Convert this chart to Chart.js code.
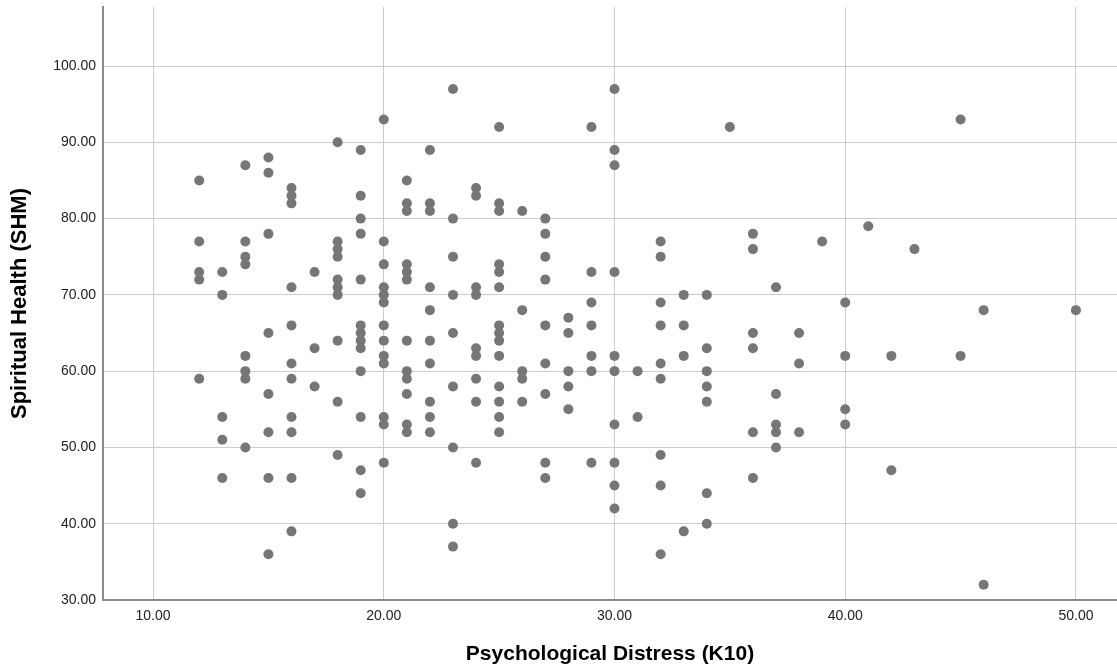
<!DOCTYPE html>
<html>
<head>
<meta charset="utf-8">
<script src="https://cdn.jsdelivr.net/npm/chart.js@4.4.0/dist/chart.umd.min.js"></script>
<style>
  html, body { margin: 0; padding: 0; background: #ffffff; }
  #wrap { width: 1117px; height: 667px; position: relative; }
</style>
</head>
<body>
<div id="wrap"><canvas id="scatter"></canvas></div>
<script>
// Psychological Distress (K10) scores, and the Spiritual Health (SHM) scores seen at each one
var distress = [12, 13, 14, 15, 16, 17, 18, 19, 20, 21, 22, 23, 24, 25, 26, 27, 28, 29, 30,
                31, 32, 33, 34, 35, 36, 37, 38, 39, 40, 41, 42, 43, 45, 46, 50];

var health = [
    [85, 77, 73, 72, 59],
    [73, 70, 54, 51, 46],
    [87, 77, 75, 74, 62, 60, 59, 50],
    [88, 86, 78, 65, 57, 52, 46, 36],
    [84, 83, 82, 71, 66, 61, 59, 54, 52, 46, 39],
    [73, 63, 58],
    [90, 77, 76, 75, 72, 71, 70, 64, 56, 49],
    [89, 83, 80, 78, 72, 66, 65, 64, 63, 60, 54, 47, 44],
    [93, 77, 74, 71, 70, 69, 66, 64, 62, 61, 54, 53, 48],
    [85, 82, 81, 74, 73, 72, 64, 60, 59, 57, 53, 52],
    [89, 82, 81, 71, 68, 64, 61, 56, 54, 52],
    [97, 80, 75, 70, 65, 58, 50, 40, 37],
    [84, 83, 71, 70, 63, 62, 59, 56, 48],
    [92, 82, 81, 74, 73, 71, 66, 65, 64, 62, 58, 56, 54, 52],
    [81, 68, 60, 59, 56],
    [80, 78, 75, 72, 66, 61, 57, 48, 46],
    [67, 65, 60, 58, 55],
    [92, 73, 69, 66, 62, 60, 48],
    [97, 89, 87, 73, 62, 60, 53, 48, 45, 42],
    [60, 54],
    [77, 75, 69, 66, 61, 59, 49, 45, 36],
    [70, 66, 62, 39],
    [70, 63, 60, 58, 56, 44, 40],
    [92],
    [78, 76, 65, 63, 52, 46],
    [71, 57, 53, 52, 50],
    [65, 61, 52],
    [77],
    [69, 62, 55, 53],
    [79],
    [62, 47],
    [76],
    [93, 62],
    [68, 32],
    [68]
];

var xTicks = [10, 20, 30, 40, 50];
var yTicks = [30, 40, 50, 60, 70, 80, 90, 100];

var points = [];
distress.forEach(function (x, i) {
    health[i].forEach(function (y) {
        points.push({ x: x, y: y });
    });
});

var fontFamily = "'Liberation Sans', Arial, Helvetica, sans-serif";

function keepTicks(list) {
    return function (axis) {
        axis.ticks = list.map(function (v) { return { value: v }; });
    };
}

new Chart(document.getElementById("scatter").getContext("2d"), {
    type: 'scatter',
    data: {
        datasets: [{
            data: points,
            backgroundColor: '#767676',
            borderColor: '#767676',
            borderWidth: 0,
            pointRadius: 5,
            pointHoverRadius: 5
        }]
    },
    options: {
        responsive: true,
        maintainAspectRatio: false,
        animation: false,
        layout: { autoPadding: false, padding: { top: 7, right: 0, left: 0, bottom: 0 } },
        plugins: {
            legend: { display: false },
            tooltip: { enabled: false }
        },
        scales: {
            x: {
                type: 'linear',
                min: 7.83,
                max: 51.78,
                afterBuildTicks: keepTicks(xTicks),
                afterFit: function (axis) {
                    axis.height = 67;
                    axis.paddingLeft = 0;
                    axis.paddingRight = 0;
                },
                grid: { color: '#cccccc', lineWidth: 1, drawTicks: false },
                border: { display: true, color: '#8a8a8a', width: 2 },
                ticks: {
                    padding: 8,
                    color: '#222222',
                    font: { family: fontFamily, size: 14 },
                    callback: function (v) { return Number(v).toFixed(2); }
                },
                title: {
                    display: true,
                    text: 'Psychological Distress (K10)',
                    color: '#000000',
                    font: { family: fontFamily, size: 21, weight: 'bold' },
                    padding: { top: 0, bottom: 0 }
                }
            },
            y: {
                type: 'linear',
                min: 30,
                max: 107.74,
                afterBuildTicks: keepTicks(yTicks),
                afterFit: function (axis) {
                    axis.width = 103;
                    axis.paddingTop = 0;
                    axis.paddingBottom = 0;
                },
                grid: { color: '#cccccc', lineWidth: 1, drawTicks: false },
                border: { display: true, color: '#8a8a8a', width: 2 },
                ticks: {
                    padding: 7,
                    color: '#222222',
                    font: { family: fontFamily, size: 14 },
                    callback: function (v) { return Number(v).toFixed(2); }
                },
                title: {
                    display: true,
                    text: 'Spiritual Health (SHM)',
                    color: '#000000',
                    font: { family: fontFamily, size: 22, weight: 'bold' },
                    padding: { top: 7, bottom: 0 }
                }
            }
        }
    }
});
</script>
</body>
</html>
